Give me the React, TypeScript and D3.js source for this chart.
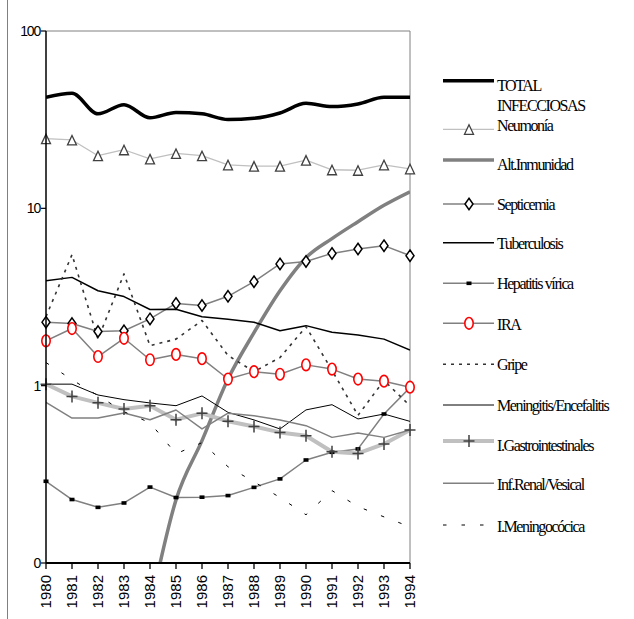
import * as d3 from 'd3'

// mortality rates per 100.000 (log scale), Spain 1980-1994
const years = [1980, 1981, 1982, 1983, 1984, 1985, 1986, 1987, 1988, 1989, 1990, 1991, 1992, 1993, 1994]

const total = [42.3, 44.5, 34.1, 38.4, 32.4, 34.7, 34.1, 31.7, 32.2, 34.5, 39.1, 37.5, 38.8, 42.3, 42.3]
const neumonia = [24.7, 24.3, 19.8, 21.4, 19.0, 20.4, 19.8, 17.6, 17.3, 17.3, 18.7, 16.5, 16.4, 17.6, 16.7]
const inmunidad = [null, null, null, null, 0.055, 0.227, 0.49, 1.09, 1.99, 3.43, 5.27, 6.75, 8.41, 10.4, 12.4]
const septicemia = [2.28, 2.24, 2.02, 2.04, 2.38, 2.91, 2.83, 3.19, 3.86, 4.86, 5.02, 5.57, 5.9, 6.16, 5.41]
const tuberculosis = [3.91, 4.08, 3.43, 3.18, 2.69, 2.7, 2.45, 2.37, 2.28, 2.04, 2.18, 2.0, 1.93, 1.83, 1.59]
const hepatitis = [0.289, 0.228, 0.206, 0.218, 0.268, 0.234, 0.235, 0.24, 0.267, 0.298, 0.381, 0.421, 0.44, 0.692, 0.975]
const ira = [1.79, 2.1, 1.46, 1.85, 1.4, 1.5, 1.42, 1.09, 1.2, 1.16, 1.31, 1.24, 1.09, 1.06, 0.98]
const gripe = [2.45, 5.48, 1.83, 4.27, 1.68, 1.83, 2.33, 1.48, 1.2, 1.44, 2.15, 1.22, 0.68, 1.07, 0.77]
const meningitis = [1.02, 1.02, 0.886, 0.834, 0.799, 0.771, 0.875, 0.707, 0.641, 0.57, 0.73, 0.781, 0.649, 0.692, 0.629]
const gastro = [1.02, 0.87, 0.8, 0.739, 0.771, 0.643, 0.698, 0.63, 0.589, 0.545, 0.522, 0.424, 0.415, 0.469, 0.562]
const renal = [0.805, 0.657, 0.657, 0.702, 0.643, 0.729, 0.57, 0.7, 0.677, 0.641, 0.595, 0.511, 0.541, 0.511, 0.562]
const meningococica = [1.35, 1.08, 0.878, 0.713, 0.618, 0.413, 0.477, 0.349, 0.287, 0.234, 0.187, 0.256, 0.208, 0.182, 0.16]

const yTicks = [0.1, 1, 10, 100]
const yTickLabels = ['0', '1', '10', '100']

const series = [
  { name: 'TOTAL INFECCIOSAS', values: total, color: '#000', width: 3.5, smooth: true },
  { name: 'Neumonía', values: neumonia, color: '#c0c0c0', width: 1.3, marker: 'triangle' },
  { name: 'Alt.Inmunidad', values: inmunidad, color: '#808080', width: 3.5, smooth: true },
  { name: 'Septicemia', values: septicemia, color: '#808080', width: 1.5, marker: 'diamond' },
  { name: 'Tuberculosis', values: tuberculosis, color: '#000', width: 1.5 },
  { name: 'Hepatitis vírica', values: hepatitis, color: '#808080', width: 1.5, marker: 'square' },
  { name: 'IRA', values: ira, color: '#808080', width: 1.5, marker: 'circle' },
  { name: 'Gripe', values: gripe, color: '#333', width: 1.6, dash: '3,5' },
  { name: 'Meningitis/Encefalitis', values: meningitis, color: '#000', width: 1 },
  { name: 'I.Gastrointestinales', values: gastro, color: '#c0c0c0', width: 4, marker: 'plus' },
  { name: 'Inf.Renal/Vesical', values: renal, color: '#808080', width: 1.5 },
  { name: 'I.Meningocócica', values: meningococica, color: '#000', width: 1, dash: '3.5,15' },
]

// legend layout (line y, text baseline offset)
const legendY = [80.7, 129.3, 160, 204, 242.7, 283.3, 323.3, 364.3, 405, 441, 483.3, 525]
const legendDy = [10.5, 1.5, 10, 6, 6, 5.5, 6.5, 6, 6, 10, 6.5, 6.5]

const Marker = ({ type, x, y }) => {
  if (type === 'triangle')
    return <path d={`M${x},${y - 4.5}L${x + 4.5},${y + 5}L${x - 4.5},${y + 5}Z`} fill="#fff" stroke="#404040" strokeWidth={1.3} />
  if (type === 'diamond')
    return <path d={`M${x},${y - 5.7}L${x + 4},${y}L${x},${y + 5.7}L${x - 4},${y}Z`} fill="#fff" stroke="#000" strokeWidth={1.5} />
  if (type === 'square')
    return <rect x={x - 2.5} y={y - 1.8} width={5} height={3.6} fill="#000" />
  if (type === 'circle')
    return <ellipse cx={x} cy={y} rx={4.2} ry={5.8} fill="#fff" stroke="#ff0000" strokeWidth={1.6} />
  if (type === 'plus')
    return <path d={`M${x - 5.5},${y}H${x + 5.5}M${x},${y - 6}V${y + 6}`} stroke="#404040" strokeWidth={1.5} />
  return null
}

export default function App() {
  const W = 634, H = 619
  const left = 46, right = 410, top = 31, bottom = 563

  const x = d3.scaleLinear().domain([1980, 1994]).range([left, right])
  const y = d3.scaleLog().domain([0.1, 100]).range([bottom, top])

  const lineFor = (smooth) =>
    d3.line()
      .defined((d) => d[1] != null)
      .x((d) => x(d[0]))
      .y((d) => y(d[1]))
      .curve(smooth ? d3.curveMonotoneX : d3.curveLinear)

  return (
    <div style={{ position: 'absolute', left: 0, top: 0 }}>
      <svg width={W} height={H} style={{ display: 'block', background: '#fff' }}>
        <defs>
          <clipPath id="plot">
            <rect x={left} y={top} width={right - left} height={bottom - top} />
          </clipPath>
        </defs>

        {/* chart area border */}
        <line x1={7.5} x2={7.5} y1={0} y2={H} stroke="#808080" />

        {/* plot frame */}
        <line x1={left} x2={right} y1={top} y2={top} stroke="#808080" />
        <line x1={right} x2={right} y1={top} y2={bottom} stroke="#808080" />

        {/* series */}
        <g clipPath="url(#plot)">
          {series.map((s) => (
            <path
              key={s.name}
              d={lineFor(s.smooth)(years.map((yr, i) => [yr, s.values[i]]))}
              fill="none"
              stroke={s.color}
              strokeWidth={s.width}
              strokeDasharray={s.dash}
              strokeLinejoin="round"
            />
          ))}
        </g>
        {series.filter((s) => s.marker).map((s) => (
          <g key={s.name + '-m'}>
            {years.map((yr, i) => s.values[i] != null && (
              <Marker key={yr} type={s.marker} x={x(yr)} y={y(s.values[i])} />
            ))}
          </g>
        ))}

        {/* y axis */}
        <line x1={left} x2={left} y1={top} y2={bottom} stroke="#000" strokeWidth={1.5} />
        {yTicks.map((t, i) => (
          <g key={t} transform={`translate(0,${y(t)})`}>
            <line x1={left - 5} x2={left} stroke="#000" strokeWidth={1.2} />
            <text x={left - 6} dy="0.35em" textAnchor="end" fontFamily="Liberation Sans, Arial, sans-serif" fontSize={14} letterSpacing={-1.2}>
              {yTickLabels[i]}
            </text>
          </g>
        ))}

        {/* x axis */}
        <line x1={left} x2={right} y1={bottom} y2={bottom} stroke="#000" strokeWidth={2} />
        {years.map((yr) => (
          <g key={yr} transform={`translate(${x(yr)},${bottom})`}>
            <line y1={0} y2={6} stroke="#000" strokeWidth={1.3} />
            <text transform="translate(0,12) rotate(-90)" dy="0.36em" textAnchor="end" fontFamily="Liberation Sans, Arial, sans-serif" fontSize={15}>
              {yr}
            </text>
          </g>
        ))}

        {/* legend */}
        {series.map((s, i) => {
          const ly = legendY[i]
          const tx = 497
          const ty = ly + legendDy[i]
          const lines = s.name === 'TOTAL INFECCIOSAS' ? ['TOTAL', 'INFECCIOSAS'] : [s.name]
          return (
            <g key={s.name + '-l'}>
              <line x1={443} x2={494} y1={ly} y2={ly} stroke={s.color} strokeWidth={s.width} strokeDasharray={s.dash} />
              {s.marker && <Marker type={s.marker} x={469} y={ly} />}
              <text x={tx} y={ty} fontFamily="Liberation Serif, Times New Roman, serif" fontSize={16} letterSpacing={-1.4}>
                {lines.map((t, k) => (
                  <tspan key={k} x={tx} dy={k === 0 ? 0 : 20}>{t}</tspan>
                ))}
              </text>
            </g>
          )
        })}
      </svg>
    </div>
  )
}
